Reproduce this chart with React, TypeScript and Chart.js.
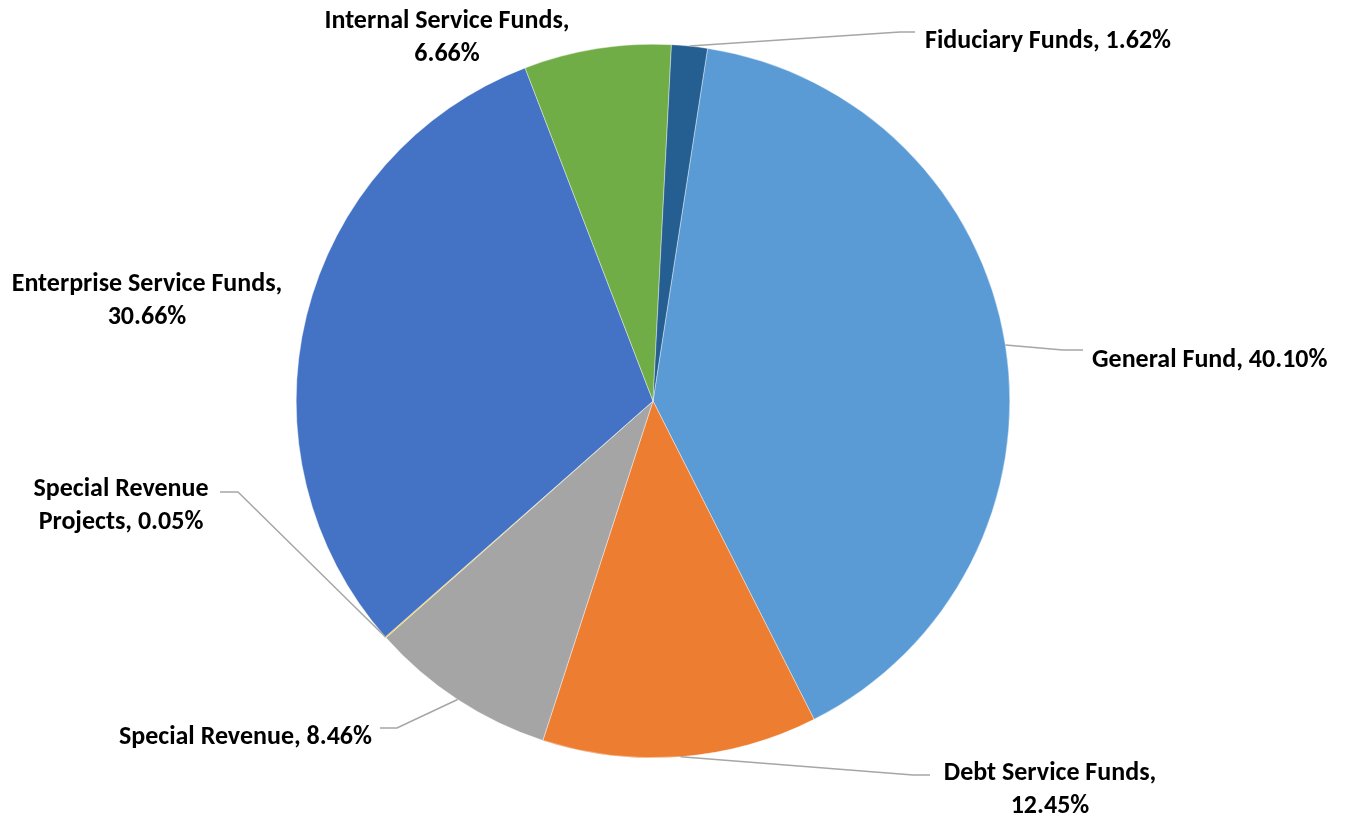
import React, { useEffect, useRef } from "react";
import { Chart, registerables } from "chart.js";

Chart.register(...registerables);

// ---- data ----
const categories = [
  "General Fund",
  "Debt Service Funds",
  "Special Revenue",
  "Special Revenue Projects",
  "Enterprise Service Funds",
  "Internal Service Funds",
  "Fiduciary Funds",
];
const shares = [40.1, 12.45, 8.46, 0.05, 30.66, 6.66, 1.62];
const sliceColors = ["#5B9BD5", "#ED7D31", "#A5A5A5", "#FFC000", "#4472C4", "#70AD47", "#255E91"];

// ---- label layout (offsets from pie centre, px) ----
type LabelLayout = {
  breakAfter: number; // words on first line (0 = single line)
  x: number;
  y: number; // baseline of first line
  align: CanvasTextAlign;
  leader: [number, number][] | null; // elbow + end points
};
const labelLayout: LabelLayout[] = [
  { breakAfter: 0, x: 439, y: -34, align: "left", leader: [[410, -51], [430, -51]] },
  { breakAfter: 3, x: 397, y: 379, align: "center", leader: [[260, 374], [277, 374]] },
  { breakAfter: 0, x: -281, y: 343, align: "right", leader: [[-256, 327], [-273, 327]] },
  { breakAfter: 2, x: -532, y: 95, align: "center", leader: [[-415, 91], [-433, 91]] },
  { breakAfter: 3, x: -506, y: -110, align: "center", leader: null },
  { breakAfter: 3, x: -206, y: -373, align: "center", leader: null },
  { breakAfter: 0, x: 272, y: -353, align: "left", leader: [[247, -369], [262, -369]] },
];
const LINE_GAP = 33;
const FONT = "bold 26px Carlito, Calibri, Lato, sans-serif";

const labelPlugin = {
  id: "excelLabels",
  afterDraw(chart: any) {
    const ctx = chart.ctx as CanvasRenderingContext2D;
    const meta = chart.getDatasetMeta(0);
    ctx.save();
    meta.data.forEach((arc: any, i: number) => {
      const { x, y, startAngle, endAngle, outerRadius } = arc.getProps(
        ["x", "y", "startAngle", "endAngle", "outerRadius"],
        true
      );
      const lay = labelLayout[i];
      const mid = (startAngle + endAngle) / 2;
      if (lay.leader) {
        ctx.beginPath();
        ctx.strokeStyle = "#A6A6A6";
        ctx.lineWidth = 1.5;
        ctx.moveTo(x + Math.cos(mid) * outerRadius, y + Math.sin(mid) * outerRadius);
        lay.leader.forEach(([dx, dy]) => ctx.lineTo(x + dx, y + dy));
        ctx.stroke();
      }
      const full = `${categories[i]}, ${shares[i].toFixed(2)}%`;
      const words = full.split(" ");
      const lines =
        lay.breakAfter > 0
          ? [words.slice(0, lay.breakAfter).join(" "), words.slice(lay.breakAfter).join(" ")]
          : [full];
      ctx.font = FONT;
      ctx.fillStyle = "#000000";
      ctx.textAlign = lay.align;
      ctx.textBaseline = "alphabetic";
      lines.forEach((ln, k) => ctx.fillText(ln, x + lay.x, y + lay.y + k * LINE_GAP));
    });
    ctx.restore();
  },
};

export default function App() {
  const ref = useRef<HTMLCanvasElement>(null);
  useEffect(() => {
    if (!ref.current) return;
    const chart = new Chart(ref.current, {
      type: "pie",
      data: {
        labels: categories,
        datasets: [
          {
            data: shares,
            backgroundColor: sliceColors,
            borderColor: "#ffffff",
            borderWidth: 0.4,
          },
        ],
      },
      options: {
        responsive: false,
        animation: false,
        rotation: 8.8,
        layout: { padding: { left: 296, right: 337, top: 44, bottom: 59 } },
        plugins: { legend: { display: false }, tooltip: { enabled: false } },
        events: [],
      },
      plugins: [labelPlugin],
    });
    return () => chart.destroy();
  }, []);
  return (
    <div style={{ position: "fixed", left: 0, top: 0, width: 1347, height: 817, background: "#fff" }}>
      <canvas ref={ref} width={1347} height={817} style={{ width: 1347, height: 817 }} />
    </div>
  );
}
